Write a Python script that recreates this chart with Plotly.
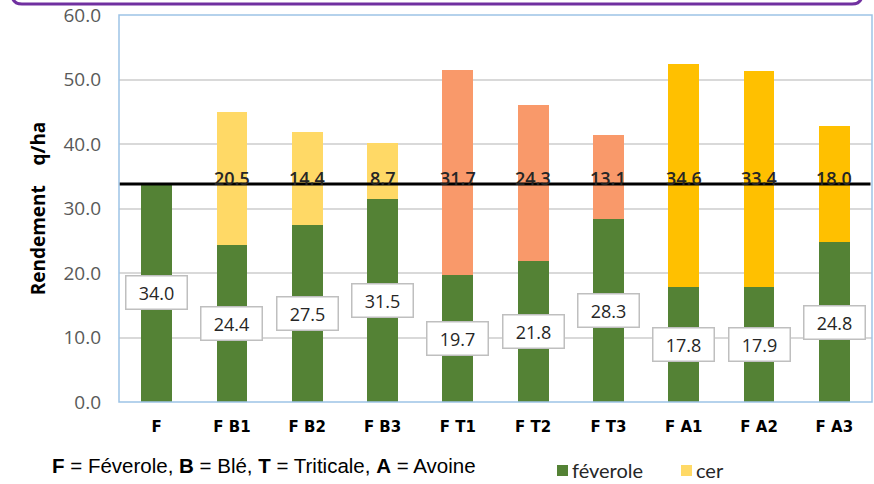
import plotly.graph_objects as go

categories = ["F", "F B1", "F B2", "F B3", "F T1", "F T2", "F T3", "F A1", "F A2", "F A3"]
feverole = [34.0, 24.4, 27.5, 31.5, 19.7, 21.8, 28.3, 17.8, 17.9, 24.8]
cereal = [None, 20.5, 14.4, 8.7, 31.7, 24.3, 13.1, 34.6, 33.4, 18.0]
cereal_colors = ["#FFD966", "#FFD966", "#FFD966", "#FFD966",
                 "#F9996A", "#F9996A", "#F9996A",
                 "#FFC000", "#FFC000", "#FFC000"]
reference_line = 33.8
cereal_label_y = 34.8
y_ticks = [0, 10, 20, 30, 40, 50, 60]

GREEN = "#548235"

W, H = 874, 484
L, R, T, B = 119, 2, 15, 82
pw, ph = W - L - R, H - T - B


def px(xp):
    return (xp - L) / pw


def py(yp):
    return (H - B - yp) / ph


fig = go.Figure()
fig.add_trace(go.Bar(x=categories, y=feverole, name="féverole",
                     marker=dict(color=GREEN, line=dict(width=0)),
                     width=0.41, showlegend=False))
fig.add_trace(go.Bar(x=categories, y=cereal, name="cer",
                     marker=dict(color=cereal_colors, line=dict(width=0)),
                     width=0.41, showlegend=False))

annotations = []
for c, v in zip(categories, feverole):
    annotations.append(dict(x=c, y=v / 2, xref="x", yref="y", text=f"{v:.1f}",
                            showarrow=False, bgcolor="white", bordercolor="#BFBFBF",
                            borderwidth=1.5, borderpad=2, width=56, height=28,
                            font=dict(family="Open Sans", size=18, color="#262626")))
for c, v in zip(categories, cereal):
    if v is None:
        continue
    annotations.append(dict(x=c, y=cereal_label_y, xref="x", yref="y", text=f"{v:.1f}",
                            showarrow=False,
                            font=dict(family="Open Sans", size=18, color="#262626", weight=600)))

# footnote
annotations.append(dict(x=px(50), y=py(466), xref="paper", yref="paper",
                        text="<b>F</b> = Féverole, <b>B</b> = Blé, <b>T</b> = Triticale, <b>A</b> = Avoine",
                        showarrow=False, xanchor="left", yanchor="middle",
                        font=dict(family="Liberation Sans Narrow, Liberation Sans", size=20.5, color="#000000")))

# manual legend
legend_items = [("féverole", GREEN, 557), ("cer", "#FFD966", 681)]
shapes = []
for name, col, x0 in legend_items:
    shapes.append(dict(type="rect", xref="paper", yref="paper",
                       x0=px(x0), x1=px(x0 + 11), y0=py(476), y1=py(465),
                       fillcolor=col, line=dict(width=0)))
    annotations.append(dict(x=px(x0 + 13), y=py(470), xref="paper", yref="paper",
                            text=name, showarrow=False, xanchor="left", yanchor="middle",
                            font=dict(family="Lato", size=20, color="#262626")))

# plot area border
shapes.append(dict(type="rect", xref="paper", yref="paper", x0=0, x1=1, y0=0, y1=1,
                   line=dict(color="#9DC3E6", width=1.5), layer="above"))
# reference line
shapes.append(dict(type="line", xref="paper", yref="y", x0=0.001, x1=0.998,
                   y0=reference_line, y1=reference_line,
                   line=dict(color="black", width=3)))
# purple frame edge at top
xl, xr = px(12), px(862)
yb, yt = py(4), py(-20)
rx, ry = 10 / pw, 10 / ph
shapes.append(dict(type="path", xref="paper", yref="paper",
                   path=(f"M {xl},{yt} L {xl},{yb + ry} Q {xl},{yb} {xl + rx},{yb} "
                         f"L {xr - rx},{yb} Q {xr},{yb} {xr},{yb + ry} L {xr},{yt}"),
                   line=dict(color="#7030A0", width=3)))

fig.update_layout(
    width=W, height=H,
    margin=dict(l=L, r=R, t=T, b=B, autoexpand=False),
    barmode="stack",
    plot_bgcolor="white",
    paper_bgcolor="white",
    annotations=annotations,
    shapes=shapes,
    showlegend=False,
    xaxis=dict(
        type="category",
        automargin=False,
        showgrid=False,
        tickfont=dict(family="DejaVu Sans", size=15, color="#000000"),
        tickvals=categories,
        ticktext=[f"<b>{c}</b>" for c in categories],
        ticks="",
        ticklabelstandoff=14,
        showline=False,
        zeroline=False,
    ),
    yaxis=dict(
        range=[0, 60],
        automargin=False,
        tickvals=y_ticks,
        ticktext=[f"{v:.1f}" for v in y_ticks],
        showgrid=True,
        gridcolor="#D9D9D9",
        gridwidth=1.5,
        zeroline=False,
        ticks="",
        ticklabelstandoff=17,
        tickfont=dict(family="Open Sans", size=19, color="#595959"),
        title=dict(text="<b>Rendement&nbsp;&nbsp;&nbsp;&nbsp;q/ha</b>", standoff=12,
                   font=dict(family="Open Sans", size=19, color="#000000")),
    ),
)

fig.write_html("out.html",
               config={"displayModeBar": False},
               post_script="document.body.style.margin='0';document.body.style.overflow='hidden';")
